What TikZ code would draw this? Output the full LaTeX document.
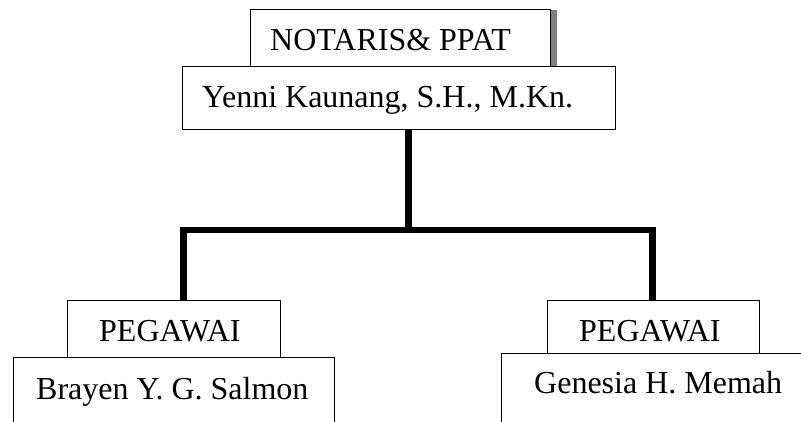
\documentclass[tikz,border=0pt]{standalone}
\usepackage{fontspec}
\setmainfont{Liberation Serif}
\begin{document}
\begin{tikzpicture}[x=1pt,y=-1pt,
  box/.style={draw=black,line width=1pt,fill=white,inner sep=0pt},
  lbl/.style={anchor=base west,inner sep=0pt,font=\fontsize{32pt}{37pt}\selectfont},
  conn/.style={draw=black,line width=6.5pt,line join=miter}]
\useasboundingbox (0,0) rectangle (801,421);
\clip (0,0) rectangle (801,421);
% shadow of top box
\fill[black!50] (551,10) rectangle (556.5,66);
% boxes
\draw[box] (250,9) rectangle (550,66);
\coordinate (notaris) at (400,37.5);
\draw[box] (182,66) rectangle (615,129);
\node[inner sep=0pt] (yenni) at (398.5,97.5) {};
\coordinate (yenniS) at (408.5,129);
\draw[box] (67,300) rectangle (280,357);
\coordinate (p1N) at (183.5,300);
\draw[box] (13,357) rectangle (334,440);
\draw[box] (547,300) rectangle (759,353);
\coordinate (p2N) at (652.5,300);
\draw[box] (501,353) rectangle (830,440);
% labels
\node[lbl] (tNot) at (270,50) {NOTARIS\& PPAT};
\node[lbl] (tYen) at (202,107) {Yenni Kaunang, S.H., M.Kn.};
\node[lbl] (tP1) at (99,341) {PEGAWAI};
\node[lbl] (tBr) at (36,399) {Brayen Y. G. Salmon};
\node[lbl] (tP2) at (579,341) {PEGAWAI};
\node[lbl] (tGe) at (534,393) {Genesia H. Memah};
% connectors
\coordinate (j) at (408.5,230);
\coordinate (jl) at (183.5,230);
\coordinate (jr) at (652.5,230);
\draw[conn] (yenniS) -- (j);
\draw[conn] (p1N) -- (jl) -- (jr) -- (p2N);
\end{tikzpicture}
\end{document}
